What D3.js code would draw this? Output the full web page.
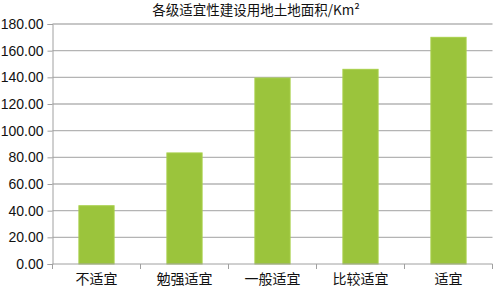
<!DOCTYPE html>
<html><head><meta charset="utf-8">
<script src="https://cdn.jsdelivr.net/npm/d3@7"></script>
<style>
body{margin:0;background:#fff;}
svg{display:block;}
</style></head>
<body>
<script>
const categories = ["不适宜","勉强适宜","一般适宜","比较适宜","适宜"];
const values = [43.7, 83.3, 139.5, 146.0, 170.0];
const yTicks = [0,20,40,60,80,100,120,140,160,180];
const title = "各级适宜性建设用地土地面积/Km²";

const W=494,H=289;
const m={left:52.5,right:1.5,top:24,bottom:25};
const svg=d3.select("body").append("svg").attr("width",W).attr("height",H);
const x=d3.scaleBand().domain(categories).range([m.left,W-m.right]).paddingInner(0.6).paddingOuter(0.3);
const y=d3.scaleLinear().domain([0,180]).range([H-m.bottom,m.top]);

// gridlines
svg.append("g").selectAll("line").data(yTicks.filter(d=>d>0)).join("line")
  .attr("x1",m.left).attr("x2",W-m.right)
  .attr("y1",d=>y(d)).attr("y2",d=>y(d))
  .attr("stroke","#b4b4b4").attr("stroke-width",1.3);

// bars
svg.append("g").selectAll("rect").data(values).join("rect")
  .attr("x",(d,i)=>x(categories[i])).attr("width",x.bandwidth())
  .attr("y",d=>y(d)).attr("height",d=>y(0)-y(d))
  .attr("fill","#9bc43c").attr("stroke","#a8d04a").attr("stroke-width",1);

// y axis
const ya=svg.append("g").attr("transform",`translate(${m.left},0)`)
  .call(d3.axisLeft(y).tickValues(yTicks).tickFormat(d3.format(".2f")).tickSize(5).tickPadding(4));
ya.select(".domain").attr("stroke","#a0a0a0");
ya.selectAll(".tick line").attr("stroke","#a0a0a0");
ya.selectAll("text").attr("font-family","Liberation Sans, Arial, sans-serif").attr("font-size",14).attr("fill","#111");

// x axis
const step=x.step();
const bounds=d3.range(categories.length+1).map(i=>m.left+i*step);
svg.append("line").attr("x1",m.left).attr("x2",W-m.right).attr("y1",y(0)).attr("y2",y(0)).attr("stroke","#a0a0a0");
svg.append("g").selectAll("line").data(bounds).join("line")
  .attr("x1",d=>d).attr("x2",d=>d).attr("y1",y(0)).attr("y2",y(0)+5).attr("stroke","#a0a0a0");
svg.append("g").selectAll("text").data(categories).join("text")
  .attr("x",d=>x(d)+x.bandwidth()/2).attr("y",H-5)
  .attr("text-anchor","middle").attr("font-family","Noto Sans CJK SC, sans-serif").attr("font-size",14).attr("fill","#111")
  .text(d=>d);

// title
svg.append("text").attr("x",256).attr("y",15).attr("text-anchor","middle")
  .attr("font-family","Noto Sans CJK SC, sans-serif").attr("font-size",13.5).attr("fill","#111").text(title);
</script>
</body></html>
